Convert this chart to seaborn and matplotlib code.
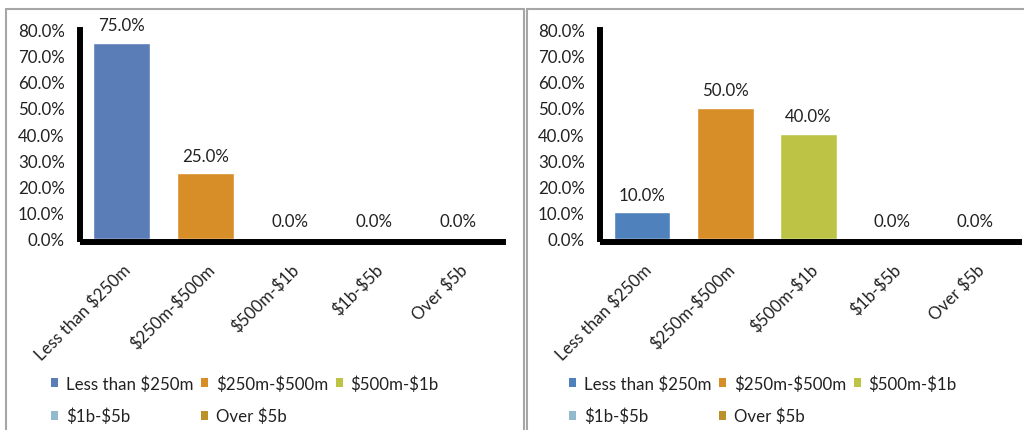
import matplotlib
matplotlib.use("Agg")
import matplotlib.pyplot as plt
import matplotlib.transforms as mtransforms
import seaborn as sns
from matplotlib.patches import Patch
from matplotlib.lines import Line2D
from matplotlib.ticker import FuncFormatter

categories = ["Less than $250m", "$250m-$500m", "$500m-$1b", "$1b-$5b", "Over $5b"]
left_values = [0.75, 0.25, 0.0, 0.0, 0.0]
right_values = [0.10, 0.50, 0.40, 0.0, 0.0]
left_colors = ["#5A7DB7", "#D88E28", "#BDC445", "#93B9CC", "#BD9129"]
right_colors = ["#4F81BD", "#D88E28", "#BDC445", "#93B9CC", "#BD9129"]
yticks = [0.0, 0.1, 0.2, 0.3, 0.4, 0.5, 0.6, 0.7, 0.8]

sns.set_theme(style="white")
plt.rcParams["font.family"] = ["Lato", "DejaVu Sans"]
plt.rcParams["text.parse_math"] = False
TXT = "#222222"
FS = 12.2

fig = plt.figure(figsize=(10.24, 4.31), dpi=100)
W, H = 1024, 431

def fx(px):
    return px / W

def fy(py):
    return 1 - py / H

# panel borders
border = "#A6A6A6"
for (x0, x1, draw_right) in [(6, 524, True), (527, 1030, False)]:
    fig.add_artist(Line2D([fx(x0), fx(x1)], [fy(10), fy(10)], color=border, lw=1.5, transform=fig.transFigure))
    fig.add_artist(Line2D([fx(x0), fx(x0)], [fy(10), fy(440)], color=border, lw=1.5, transform=fig.transFigure))
    if draw_right:
        fig.add_artist(Line2D([fx(x1), fx(x1)], [fy(10), fy(440)], color=border, lw=1.5, transform=fig.transFigure))

panels = [
    (left_values, left_colors, 83, 503, (-0.46, 4.54), 54),
    (right_values, right_colors, 603, 1019, (-0.47, 4.53), 572),
]

for values, colors, xl, xr, xlim, legx in panels:
    ax = fig.add_axes([fx(xl), fy(239.5), (xr - xl) / W, (239.5 - 30.7) / H])
    sns.barplot(x=categories, y=values, hue=categories, palette=colors, order=categories,
                hue_order=categories, width=0.68, legend=False, ax=ax, saturation=1)
    ax.set_xlim(*xlim)
    ax.set_ylim(0, 0.8)
    ax.set_yticks(yticks)
    ax.yaxis.set_major_formatter(FuncFormatter(lambda v, p: f"{v*100:.1f}%"))
    for s in ["top", "right"]:
        ax.spines[s].set_visible(False)
    for s in ["left", "bottom"]:
        ax.spines[s].set_linewidth(4.3)
        ax.spines[s].set_color("black")
        ax.spines[s].set_position(("outward", 2.2))
    ax.tick_params(axis="y", length=0, pad=11, labelsize=FS, labelcolor=TXT)
    ax.tick_params(axis="x", length=0, pad=14, labelsize=FS, labelcolor=TXT)
    shift = mtransforms.ScaledTranslation(1 / 100, 0, fig.dpi_scale_trans)
    for lab in ax.get_xticklabels():
        lab.set_rotation(45)
        lab.set_ha("right")
        lab.set_va("top")
        lab.set_rotation_mode("anchor")
        lab.set_transform(lab.get_transform() + shift)
    ax.set_xlabel("")
    ax.set_ylabel("")
    ax.set_facecolor("none")
    for i, v in enumerate(values):
        ax.annotate(f"{v*100:.1f}%", (i, v), xytext=(0, 7), textcoords="offset points",
                    ha="center", va="bottom", fontsize=FS, color=TXT)

    order = [0, 3, 1, 4, 2]
    handles = [Patch(facecolor=colors[i], edgecolor="none") for i in order]
    labels = [categories[i] for i in order]
    fig.legend(handles, labels, loc="upper left", bbox_to_anchor=(fx(legx - 8), fy(371)),
               ncol=3, frameon=False, fontsize=FS, handlelength=0.42, handleheight=0.42,
               handletextpad=0.45, columnspacing=0.45, labelspacing=0.95, labelcolor=TXT,
               borderaxespad=0, borderpad=0.3)

fig.savefig("out.png", dpi=100, facecolor="white")
